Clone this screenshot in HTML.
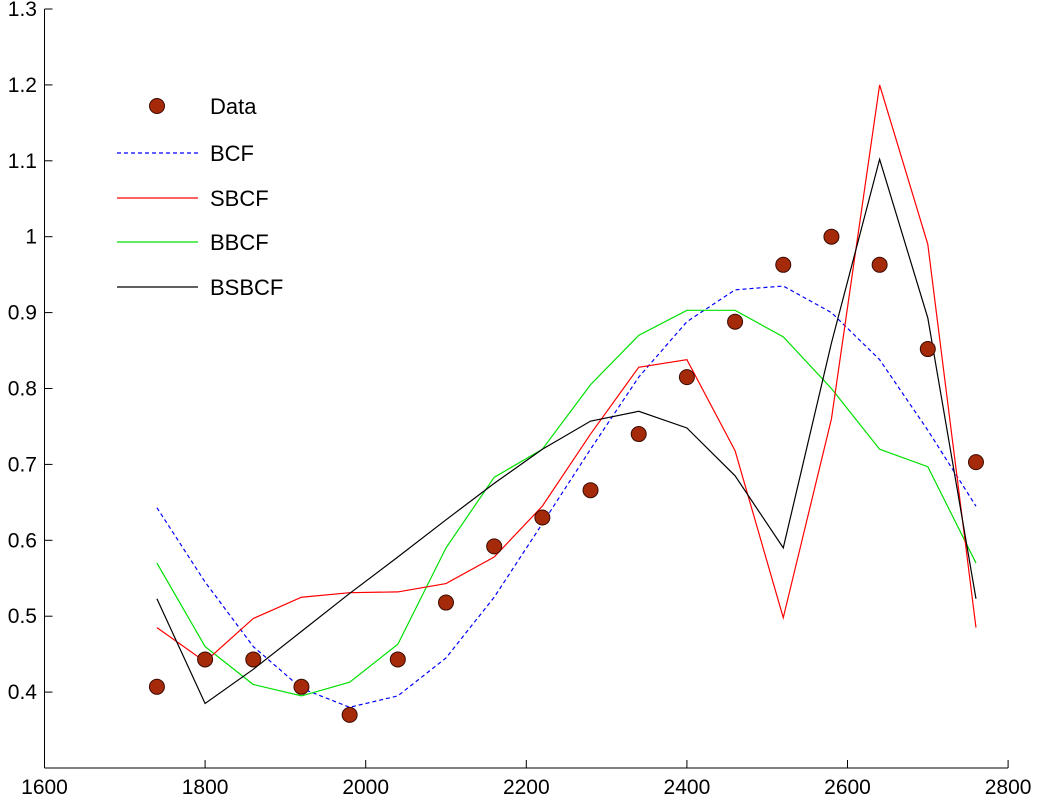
<!DOCTYPE html>
<html><head><meta charset="utf-8"><style>
html,body{margin:0;padding:0;background:#fff;}
svg{display:block;font-family:"Liberation Sans",sans-serif;}
</style></head><body>
<svg id="chart" width="1039" height="809"></svg>
<script>
const xs=[1740,1800,1860,1920,1980,2040,2100,2160,2220,2280,2340,2400,2460,2520,2580,2640,2700,2760];
const dataVals=[0.407,0.443,0.443,0.407,0.37,0.443,0.518,0.592,0.63,0.666,0.74,0.815,0.888,0.963,1.0,0.963,0.852,0.703];
const bcf=[0.643,0.545,0.46,0.405,0.38,0.395,0.445,0.525,0.622,0.72,0.815,0.888,0.93,0.935,0.9,0.838,0.745,0.645];
const sbcf=[0.485,0.44,0.497,0.525,0.531,0.532,0.543,0.578,0.645,0.74,0.828,0.838,0.718,0.498,0.76,1.2,0.99,0.485];
const bbcf=[0.57,0.46,0.41,0.395,0.413,0.463,0.59,0.683,0.72,0.805,0.87,0.903,0.903,0.868,0.8,0.72,0.697,0.57];
const bsbcf=[0.523,0.385,0.43,0.48,0.53,0.578,0.627,0.675,0.72,0.757,0.77,0.748,0.685,0.59,0.86,1.102,0.893,0.523];
const xTicks=[1600,1800,2000,2200,2400,2600,2800];
const yTicks=[0.4,0.5,0.6,0.7,0.8,0.9,1,1.1,1.2,1.3];
const yTickLabels=["0.4","0.5","0.6","0.7","0.8","0.9","1","1.1","1.2","1.3"];

const svg=document.getElementById('chart');
const NS='http://www.w3.org/2000/svg';
const X=v=>44.5+(v-1600)*0.803;
const Y=v=>768-(v-0.3)*759;
function mk(tag,attrs,parent){const e=document.createElementNS(NS,tag);for(const k in attrs)e.setAttribute(k,attrs[k]);(parent||svg).appendChild(e);return e;}

let ax=mk('line',{x1:X(1600),y1:Y(0.3),x2:X(1600),y2:Y(1.3),stroke:'#000','stroke-width':1});


ax=mk('line',{x1:X(1600),y1:Y(0.3),x2:X(2800),y2:Y(0.3),stroke:'#000','stroke-width':1});



xTicks.forEach(t=>{
  const l=mk('line',{x1:X(t),y1:Y(0.3),x2:X(t),y2:Y(0.3)-8,stroke:'#000'});
  
  
  const tx=mk('text',{x:X(t),y:794,'font-size':21,'text-anchor':'middle',fill:'#000'});
  tx.textContent=t;
  
  
});
yTicks.forEach((t,i)=>{
  const l=mk('line',{x1:X(1600),y1:Y(t),x2:X(1600)+8,y2:Y(t),stroke:'#000'});
  
  
  const tx=mk('text',{x:37,y:Y(t)+7,'font-size':21,'text-anchor':'end',fill:'#000'});
  tx.textContent=yTickLabels[i];
  
  
});

function line(vals,color,name,dash){
  const p=mk('polyline',{points:vals.map((v,i)=>X(xs[i])+','+Y(v)).join(' '),fill:'none',stroke:color,'stroke-width':1.2});
  if(dash)p.setAttribute('stroke-dasharray',dash);
  
  
}
line(bcf,'#0000ff','bcf-line','4,3');
line(bbcf,'#00e000','bbcf-line');
line(sbcf,'#ff0000','sbcf-line');
line(bsbcf,'#000000','bsbcf-line');

dataVals.forEach((v,i)=>{
  const c=mk('circle',{cx:X(xs[i]),cy:Y(v),r:7.5,fill:'#a52a0a',stroke:'#3a0a00','stroke-width':1});
  
  
});

const lg=mk('g',{});


const lc=mk('circle',{cx:157,cy:106,r:7.5,fill:'#a52a0a',stroke:'#3a0a00'},lg);


const entries=[['Data',106,null,null],['BCF',153,'#0000ff','4,3'],['SBCF',198,'#ff0000',null],['BBCF',242,'#00e000',null],['BSBCF',287,'#000000',null]];
entries.forEach(e=>{
  if(e[2]){
    const l=mk('line',{x1:117,y1:e[1],x2:198,y2:e[1],stroke:e[2],'stroke-width':1.2},lg);
    if(e[3])l.setAttribute('stroke-dasharray',e[3]);
    
    
  }
  const t=mk('text',{x:210,y:e[1]+8,'font-size':22,fill:'#000'},lg);
  t.textContent=e[0];
  
  
});
</script>
</body></html>
